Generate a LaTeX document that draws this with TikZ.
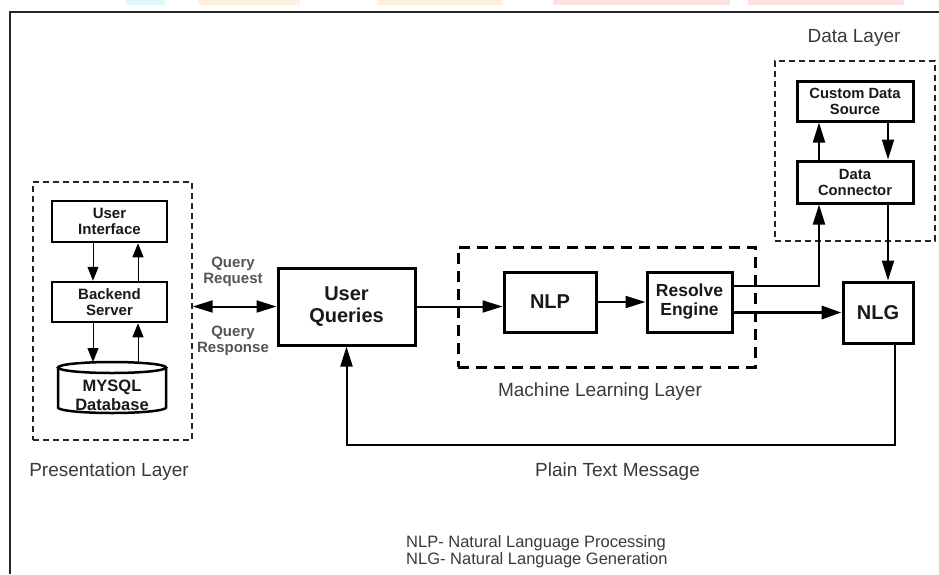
\documentclass[tikz,border=0pt]{standalone}
\usepackage{fontspec}
\setmainfont{Liberation Sans}
\usetikzlibrary{arrows.meta}
\definecolor{labelgray}{HTML}{3A3A3A}
\definecolor{querygray}{HTML}{555555}
\definecolor{framegray}{HTML}{262626}
\begin{document}
\begin{tikzpicture}[x=1pt,y=-1pt,
  box/.style={draw=black, line width=3pt, fill=white, align=center, inner sep=0pt, text=black!90},
  smallbox/.style={box, line width=2.5pt},
  thindash/.style={draw=black!85, line width=1.4pt, dash pattern=on 6pt off 4pt, inner sep=0pt},
  thickdash/.style={draw=black, line width=3pt, dash pattern=on 11pt off 7pt, inner sep=0pt},
  conn/.style={line width=2pt, -{Triangle[length=20pt,width=12pt]}},
  thinconn/.style={line width=1pt, -{Triangle[length=14pt,width=11pt]}},
  layerlabel/.style={text=labelgray, font=\fontsize{19}{22}\selectfont, inner sep=0pt},
  querylabel/.style={text=querygray, font=\bfseries\fontsize{15}{16}\selectfont, align=center, inner sep=0pt}
]
\useasboundingbox (0,0) rectangle (939,574);
\fill[white] (0,0) rectangle (939,574);
% faint colour strips at the top edge
\fill[cyan!12] (126,0) rectangle (165,5);
\fill[orange!12] (198,0) rectangle (300,5);
\fill[orange!12] (377,0) rectangle (503,5);
\fill[red!12] (553,0) rectangle (730,5);
\fill[red!12] (748,0) rectangle (904,5);
% frame
\draw[framegray, line width=2.5pt] (10,574) -- (10,12) -- (939,12);

% ---------- Presentation layer ----------
\node[thindash, minimum width=159pt, minimum height=258pt] (pl) at (112.5,311) {};
\node[smallbox, minimum width=115pt, minimum height=41pt, font=\bfseries\fontsize{15}{16}\selectfont] (ui) at (109.5,221.5) {User\\Interface};
\node[smallbox, minimum width=115pt, minimum height=40pt, font=\bfseries\fontsize{15}{16}\selectfont] (bs) at (109.5,302) {Backend\\Server};
% cylinder
\draw[line width=2.5pt, fill=white] (58,367.5) -- (58,407.5) arc[start angle=180, end angle=0, x radius=54, y radius=5.5] -- (166,367.5);
\draw[line width=2.5pt] (112,367.5) ellipse [x radius=54, y radius=5.5];
\node[align=center, inner sep=0pt, font=\bfseries\fontsize{16.5}{18.5}\selectfont, text=black!90] (db) at (112,395.5) {MYSQL\\Database};
\coordinate (dbtop) at (112,362);
\draw[thinconn] ([xshift=-16.5pt]ui.south) -- ([xshift=-16.5pt]bs.north);
\draw[thinconn] ([xshift=28.5pt]bs.north) -- ([xshift=28.5pt]ui.south);
\draw[thinconn] ([xshift=-16.5pt]bs.south) -- ([xshift=-16.5pt]bs.south |- dbtop);
\draw[thinconn] ([xshift=28.5pt]bs.south |- dbtop) -- ([xshift=28.5pt]bs.south);
\node[layerlabel] (pllabel) at (109,472) {Presentation Layer};

% ---------- User queries ----------
\node[box, minimum width=137pt, minimum height=77pt, font=\bfseries\fontsize{20}{22}\selectfont] (uq) at (346.5,306.5) {User\\Queries};
\draw[line width=2pt, {Triangle[length=20pt,width=12pt]}-{Triangle[length=20pt,width=12pt]}] (pl.east |- uq.west) -- (uq.west);
\node[querylabel] (qreq) at (233,271.5) {Query\\Request};
\node[querylabel] (qres) at (233,341) {Query\\Response};

% ---------- Machine learning layer ----------
\node[thickdash, minimum width=297pt, minimum height=120pt] (ml) at (606.5,307) {};
\node[box, minimum width=92pt, minimum height=60pt, font=\bfseries\fontsize{20}{22}\selectfont] (nlp) at (550,302) {NLP};
\node[box, minimum width=85pt, minimum height=60pt, font=\bfseries\fontsize{17.5}{19}\selectfont] (re) at (689.5,302) {Resolve\\Engine};
\node[layerlabel] (mllabel) at (600,392) {Machine Learning Layer};
\draw[conn] (uq.east) -- (uq.east -| nlp.west);
\draw[conn] (nlp.east) -- (re.west);

% ---------- Data layer ----------
\node[thindash, minimum width=160pt, minimum height=180pt] (dl) at (855,151) {};
\node[layerlabel] (dllabel) at (854,38) {Data Layer};
\node[box, minimum width=116pt, minimum height=40pt, font=\bfseries\fontsize{14.8}{16}\selectfont] (cds) at (855,101) {Custom Data\\Source};
\node[box, minimum width=116pt, minimum height=42pt, font=\bfseries\fontsize{14.8}{16}\selectfont] (dc) at (855,182) {Data\\Connector};
\draw[conn] ([xshift=-36pt]dc.north) -- ([xshift=-36pt]cds.south);
\draw[conn] ([xshift=33pt]cds.south) -- ([xshift=33pt]dc.north);

% ---------- NLG ----------
\node[box, minimum width=70pt, minimum height=61pt, font=\bfseries\fontsize{20}{22}\selectfont] (nlg) at (878,312.5) {NLG};
\draw[conn] ([yshift=16pt]re.east) -| ([xshift=-36pt]dc.south);
\draw[line width=3.5pt, -{Triangle[length=20pt,width=13pt]}] (re.east |- nlg.west) -- (nlg.west);
\draw[conn] ([xshift=33pt]dc.south) -- ([xshift=33pt]dc.south |- nlg.north);
\draw[conn] ([xshift=17pt]nlg.south) -- ++(0,100) -| (uq.south);
\node[layerlabel] (ptm) at (617.5,472) {Plain Text Message};

% ---------- legend ----------
\node[anchor=west, align=left, inner sep=0pt, text=labelgray, font=\fontsize{16.5}{17}\selectfont] (legend) at (406,551.5) {NLP- Natural Language Processing\\NLG- Natural Language Generation};
\end{tikzpicture}
\end{document}
